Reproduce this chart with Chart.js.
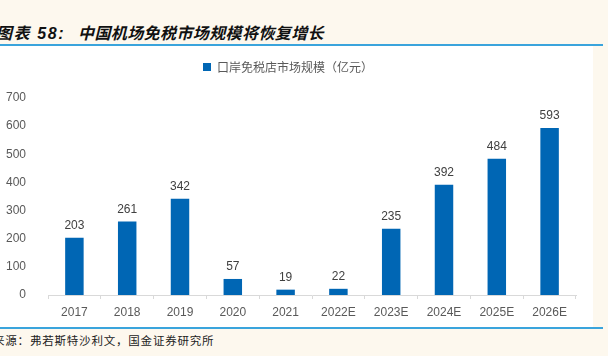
<!DOCTYPE html>
<html><head><meta charset="utf-8">
<script src="https://cdn.jsdelivr.net/npm/chart.js@4.4.0/dist/chart.umd.min.js"></script>
<style>
html,body{margin:0;padding:0;}
body{width:608px;height:356px;background:#fdf8ee;position:relative;overflow:hidden;font-family:"Liberation Sans","Noto Sans CJK SC",sans-serif;}
.t{position:absolute;top:20px;font-family:"Liberation Sans","Noto Sans CJK SC";font-weight:bold;font-style:italic;font-size:16px;color:#111;white-space:nowrap;}
#t1{left:-4px;letter-spacing:1.6px;}
#t2{left:78px;letter-spacing:0.4px;}
#l1{position:absolute;left:0;top:44px;width:603px;height:2px;background:#3aa4dc;}
#panel{position:absolute;left:0;top:46px;width:593px;height:281px;background:#fff;}
#l2{position:absolute;left:0;top:327px;width:603px;height:2px;background:#3aa4dc;}
#src{position:absolute;left:-7px;top:332px;font-family:"Noto Sans CJK SC";font-size:11.5px;color:#222;white-space:nowrap;letter-spacing:0.8px;}
#wrap{position:absolute;left:0;top:47px;width:593px;height:280px;}
</style></head>
<body>
<div class="t" id="t1">图表 58:</div>
<div class="t" id="t2">中国机场免税市场规模将恢复增长</div>
<div id="l1"></div>
<div id="panel"></div>
<div id="wrap"><canvas id="c" width="593" height="280"></canvas></div>
<div id="l2"></div>
<div id="src">来源：弗若斯特沙利文，国金证券研究所</div>
<script>
const categories = ['2017','2018','2019','2020','2021','2022E','2023E','2024E','2025E','2026E'];
const marketSize = [203, 261, 342, 57, 19, 22, 235, 392, 484, 593];
const seriesName = '口岸免税店市场规模（亿元）';
const yTicks = [0,100,200,300,400,500,600,700];

const valueLabels = {
  id: 'valueLabels',
  afterDatasetsDraw(chart) {
    const ctx = chart.ctx;
    const meta = chart.getDatasetMeta(0);
    ctx.save();
    ctx.font = '12px "Liberation Sans", Arial, sans-serif';
    ctx.fillStyle = '#404040';
    ctx.textAlign = 'center';
    ctx.textBaseline = 'bottom';
    meta.data.forEach((el, i) => {
      ctx.fillText(String(chart.data.datasets[0].data[i]), el.x, el.y - 6);
    });
    ctx.restore();
  }
};

const legendGap = {
  id: 'legendGap',
  beforeInit(chart) {
    const origFit = chart.legend.fit;
    chart.legend.fit = function () {
      origFit.bind(chart.legend)();
      this.height += 15;
    };
  }
};

new Chart(document.getElementById('c'), {
  type: 'bar',
  data: {
    labels: categories,
    datasets: [{
      label: seriesName,
      data: marketSize,
      backgroundColor: '#0066b4',
      borderWidth: 0,
      barPercentage: 0.35,
      categoryPercentage: 1.0
    }]
  },
  options: {
    responsive: false,
    animation: false,
    devicePixelRatio: 1,
    layout: { padding: { top: 14, right: 17, left: 0, bottom: 0 } },
    plugins: {
      legend: {
        display: true,
        position: 'top',
        labels: {
          boxWidth: 8, boxHeight: 8,
          color: '#595959',
          font: { size: 12, family: '"Noto Sans CJK SC", sans-serif' },
          padding: 0
        }
      },
      tooltip: { enabled: false }
    },
    scales: {
      x: {
        grid: { display: true, drawOnChartArea: false, drawTicks: true, tickLength: 4, color: '#d9d9d9', offset: true },
        border: { display: true, color: '#d9d9d9' },
        ticks: { color: '#595959', font: { size: 12, family: '"Liberation Sans", Arial, sans-serif' }, padding: 6, maxRotation: 0 },
        afterFit(s) { s.height = 32; }
      },
      y: {
        min: 0, max: 700,
        afterBuildTicks(s) { s.ticks = yTicks.map(v => ({ value: v })); },
        grid: { display: false },
        border: { display: false },
        ticks: { color: '#595959', font: { size: 12, family: '"Liberation Sans", Arial, sans-serif' }, padding: 14 },
        afterFit(s) { s.width = 48; }
      }
    }
  },
  plugins: [valueLabels, legendGap]
});
</script>
</body></html>
